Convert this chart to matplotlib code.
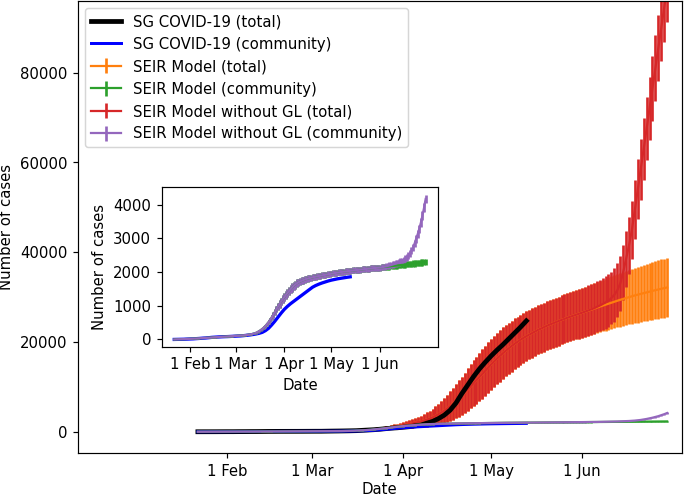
import numpy as np
import pandas as pd
import matplotlib
matplotlib.use('Agg')
import matplotlib.pyplot as plt

# model output, daily Jan 22 .. Jun 30
days = pd.date_range('2020-01-22', '2020-06-30', freq='D').values
# reported data every 2 days, Jan 22 .. May 13
sg_days = pd.date_range('2020-01-22', '2020-05-13', freq='2D').values

sg_total = [0, 3, 4, 7, 13, 18, 18, 28, 33, 43, 47, 58, 72, 77, 84, 86, 89, 91, 96, 102,
            108, 110, 130, 150, 166, 187, 212, 243, 313, 385, 455, 558, 683, 802, 879,
            1000, 1114, 1309, 1481, 1910, 2299, 2918, 3699, 4800, 6400,
            8500, 10400, 12300, 14000, 15500, 16900, 18200, 19400, 20700, 22000,
            23300, 24700]
sg_comm = [0, 2, 4, 6, 10, 14, 17, 24, 30, 38, 43, 52, 62, 68, 74, 78, 82, 85, 90, 95,
           100, 104, 112, 122, 132, 146, 162, 182, 210, 260, 330, 430, 540, 660, 780,
           890, 980, 1060, 1130, 1200, 1270, 1340, 1410, 1480, 1550,
           1600, 1640, 1675, 1705, 1735, 1760, 1780, 1800, 1815, 1830, 1845, 1858]

# SEIR model (total), mean and error, one row = 10 days starting Jan 22
seir_total = [0, 2, 4, 6, 8, 10, 12, 14, 17, 19,
              22, 25, 28, 31, 34, 37, 41, 44, 48, 51,
              55, 58, 62, 65, 69, 72, 76, 79, 83, 86,
              90, 93, 97, 100, 104, 107, 111, 114, 118, 122,
              126, 130, 135, 140, 146, 153, 160, 169, 178, 189,
              202, 218, 236, 259, 285, 315, 350, 392, 440, 497,
              560, 632, 710, 793, 880, 968, 1060, 1153, 1250, 1350,
              1450, 1570, 1700, 1850, 2000, 2150, 2300, 2500, 2700, 2950,
              3200, 3550, 3900, 4300, 4700, 5200, 5700, 6250, 6800, 7400,
              8000, 8700, 9400, 10100, 10800, 11500, 12200, 12900, 13600, 14300,
              15000, 15650, 16300, 16900, 17500, 18050, 18600, 19100, 19600, 20050,
              20500, 20900, 21300, 21650, 22000, 22350, 22700, 23000, 23300, 23600,
              23900, 24150, 24400, 24650, 24900, 25150, 25400, 25620, 25850, 26080,
              26300, 26520, 26750, 26980, 27200, 27420, 27650, 27880, 28100, 28320,
              28550, 28780, 29000, 29200, 29400, 29600, 29800, 30000, 30200, 30380,
              30550, 30720, 30900, 31080, 31250, 31400, 31550, 31700, 31850, 32000,
              32150]
seir_total_err = [0, 0, 1, 1, 2, 2, 3, 3, 4, 4,
                  5, 5, 6, 6, 7, 7, 8, 8, 9, 9,
                  10, 10, 11, 11, 12, 12, 13, 13, 14, 14,
                  15, 15, 16, 16, 17, 17, 18, 18, 19, 20,
                  21, 22, 24, 26, 28, 31, 34, 38, 42, 48,
                  55, 63, 72, 83, 95, 110, 125, 145, 165, 190,
                  215, 245, 280, 320, 360, 405, 450, 505, 560, 625,
                  690, 770, 850, 950, 1050, 1170, 1300, 1450, 1600, 1770,
                  1950, 2150, 2350, 2570, 2800, 3050, 3300, 3550, 3800, 4050,
                  4300, 4500, 4700, 4900, 5100, 5250, 5400, 5500, 5600, 5650,
                  5700, 5720, 5750, 5750, 5750, 5720, 5700, 5680, 5650, 5620,
                  5600, 5580, 5550, 5520, 5500, 5490, 5480, 5470, 5460, 5450,
                  5450, 5450, 5450, 5450, 5460, 5470, 5480, 5490, 5500, 5510,
                  5530, 5550, 5570, 5600, 5620, 5650, 5680, 5710, 5750, 5780,
                  5820, 5860, 5900, 5940, 5980, 6020, 6060, 6100, 6140, 6180,
                  6220, 6260, 6300, 6340, 6380, 6420, 6460, 6500, 6540, 6580,
                  6620]

# SEIR model (community)
seir_comm = [0, 1, 3, 4, 6, 7, 9, 11, 13, 15,
             17, 19, 22, 24, 27, 30, 33, 36, 39, 42,
             45, 48, 51, 54, 57, 60, 63, 66, 69, 72,
             75, 77, 80, 83, 86, 89, 92, 95, 98, 101,
             104, 107, 111, 115, 120, 125, 131, 138, 145, 154,
             165, 178, 195, 217, 245, 275, 310, 350, 395, 450,
             510, 578, 650, 728, 810, 895, 980, 1055, 1130, 1195,
             1260, 1320, 1380, 1435, 1490, 1540, 1590, 1630, 1670, 1695,
             1720, 1740, 1760, 1778, 1795, 1808, 1820, 1833, 1845, 1855,
             1865, 1875, 1885, 1893, 1900, 1910, 1920, 1928, 1937, 1946,
             1955, 1962, 1970, 1978, 1985, 1993, 2000, 2007, 2013, 2020,
             2026, 2032, 2038, 2044, 2050, 2056, 2062, 2068, 2073, 2078,
             2083, 2088, 2093, 2098, 2103, 2108, 2112, 2117, 2121, 2126,
             2130, 2135, 2140, 2145, 2150, 2155, 2160, 2165, 2170, 2175,
             2180, 2186, 2192, 2198, 2204, 2210, 2216, 2222, 2228, 2234,
             2240, 2246, 2252, 2258, 2264, 2270, 2276, 2282, 2288, 2294,
             2300]
seir_comm_err = [0, 0, 1, 1, 1, 1, 2, 2, 2, 2,
                 3, 3, 3, 3, 4, 4, 4, 4, 5, 5,
                 5, 5, 6, 6, 6, 6, 7, 7, 7, 7,
                 8, 8, 8, 8, 9, 9, 9, 9, 10, 10,
                 10, 10, 11, 11, 12, 12, 13, 14, 15, 16,
                 18, 20, 22, 25, 28, 32, 36, 41, 46, 52,
                 58, 65, 72, 80, 88, 95, 102, 108, 114, 118,
                 122, 124, 126, 126, 126, 124, 122, 119, 116, 113,
                 110, 107, 104, 101, 99, 97, 95, 93, 92, 91,
                 90, 89, 88, 87, 87, 87, 86, 86, 86, 86,
                 86, 86, 86, 86, 86, 86, 86, 86, 86, 86,
                 86, 86, 86, 86, 87, 87, 87, 87, 87, 87,
                 88, 88, 88, 88, 88, 88, 89, 89, 89, 89,
                 89, 89, 90, 90, 90, 90, 90, 90, 91, 91,
                 91, 91, 91, 91, 92, 92, 92, 92, 92, 92,
                 93, 93, 93, 93, 93, 93, 94, 94, 94, 94,
                 94]

# without GL: identical up to May 31, own values for Jun 1 .. Jun 30
nogl_total_tail = [26520, 26750, 27000, 27250, 27500, 27800, 28100, 28450, 28800, 29200,
                   29800, 30500, 31500, 33000, 35500, 38500, 41500, 45000, 49500, 54000,
                   58500, 63000, 67500, 72000, 76500, 81000, 85500, 90000, 94500, 99000]
nogl_total_tail_err = [5550, 5570, 5600, 5620, 5650, 5680, 5720, 5760, 5800, 5850,
                       5900, 5960, 6030, 6100, 6200, 6300, 6400, 6500, 6600, 6700,
                       6800, 6900, 7000, 7100, 7200, 7300, 7400, 7500, 7600, 7700]
nogl_comm_tail = [2135, 2143, 2152, 2162, 2172, 2183, 2195, 2208, 2222, 2237,
                  2253, 2270, 2289, 2310, 2334, 2362, 2395, 2435, 2485, 2550,
                  2630, 2730, 2850, 2985, 3130, 3290, 3470, 3680, 3910, 4170]
nogl_comm_tail_err = [89, 90, 90, 90, 91, 91, 91, 92, 92, 93,
                      93, 94, 95, 96, 97, 98, 99, 100, 102, 104,
                      106, 108, 110, 113, 116, 119, 122, 125, 128, 132]

tick_dates = np.array(['2020-02-01', '2020-03-01', '2020-04-01', '2020-05-01', '2020-06-01'],
                      dtype='datetime64[D]')
tick_labels = ['1 Feb', '1 Mar', '1 Apr', '1 May', '1 Jun']

n_may = 131  # days up to May 31
nogl_total = seir_total[:n_may] + nogl_total_tail
nogl_total_err = seir_total_err[:n_may] + nogl_total_tail_err
nogl_comm = seir_comm[:n_may] + nogl_comm_tail
nogl_comm_err = seir_comm_err[:n_may] + nogl_comm_tail_err

elw = 1.8

fig = plt.figure(figsize=(6.4, 4.636), dpi=107)
ax = fig.add_axes([0.1134, 0.0861, 0.8822, 0.912])

ax.plot(sg_days, sg_total, color='k', lw=3.2, zorder=3, label='SG COVID-19 (total)')
ax.plot(sg_days, sg_comm, color='b', lw=2, zorder=3.5, label='SG COVID-19 (community)')
ax.errorbar(days, seir_total, yerr=seir_total_err, color='tab:orange', elinewidth=elw,
            label='SEIR Model (total)')
ax.errorbar(days, seir_comm, yerr=seir_comm_err, color='tab:green', elinewidth=elw,
            zorder=4, label='SEIR Model (community)')
ax.errorbar(days, nogl_total, yerr=nogl_total_err, color='tab:red', elinewidth=elw,
            label='SEIR Model without GL (total)')
ax.errorbar(days, nogl_comm, yerr=nogl_comm_err, color='tab:purple', elinewidth=elw,
            zorder=4, label='SEIR Model without GL (community)')

ax.set_xlim(np.datetime64('2019-12-12'), np.datetime64('2020-07-05'))
ax.set_ylim(-4800, 96000)
ax.set_xticks(tick_dates)
ax.set_xticklabels(tick_labels)
ax.set_xlabel('Date', labelpad=2)
ax.set_ylabel('Number of cases')
ax.legend(loc='upper left')

# inset with the community numbers
axin = fig.add_axes([0.2361, 0.3010, 0.4038, 0.3214], zorder=5)
axin.plot(sg_days, sg_comm, color='b', lw=2.2)
axin.errorbar(days, seir_comm, yerr=seir_comm_err, color='tab:green', elinewidth=elw)
axin.errorbar(days, nogl_comm, yerr=nogl_comm_err, color='tab:purple', elinewidth=elw)
axin.set_xticks(tick_dates)
axin.set_xticklabels(tick_labels)
axin.set_xlabel('Date')
axin.set_ylabel('Number of cases')

fig.savefig('out.png', dpi=107)
